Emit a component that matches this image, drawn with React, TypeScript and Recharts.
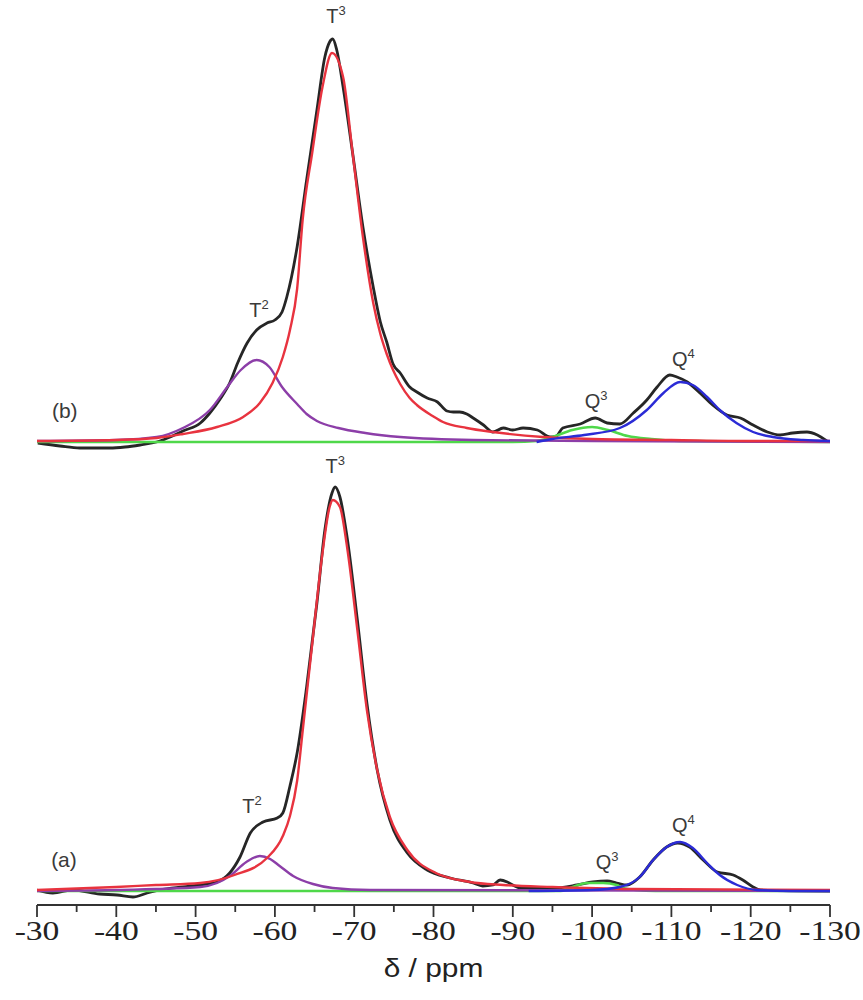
import { LineChart, Line, XAxis, YAxis, ReferenceDot } from "recharts";

// chemical shift axis (ppm)
const majorTicks = [-30, -40, -50, -60, -70, -80, -90, -100, -110, -120, -130];
const minorTicks = [-35, -45, -55, -65, -75, -85, -95, -105, -115, -125];

// (b) upper spectrum - experimental trace
const bExpPpm = [-30.1, -32.9, -35.4, -39.2, -41.1, -43.0, -44.5, -45.5, -46.8, -48.4, -50.6, -51.8, -53.1, -54.3, -55.3, -56.5, -57.7, -59.0, -60.0, -60.9, -61.5, -62.8, -64.0, -65.3, -66.3, -66.9, -67.3, -67.8, -68.6, -69.8, -71.1, -72.4, -73.3, -74.1, -74.9, -75.8, -77.0, -77.9, -79.2, -80.5, -81.7, -82.5, -83.3, -84.2, -85.0, -86.3, -87.5, -88.8, -90.0, -91.3, -93.1, -94.7, -95.5, -96.3, -98.5, -100.4, -101.9, -103.5, -105.2, -106.9, -108.2, -109.8, -110.7, -112.0, -113.6, -115.2, -117.0, -118.7, -120.3, -122.1, -123.7, -125.3, -127.1, -128.4, -129.6];
const bExpInt = [-1, -4, -6, -6, -5, -3, -1, 1, 5, 11, 19, 29, 43, 59, 79, 99, 112, 119, 122, 130, 145, 195, 262, 332, 385, 400, 403, 392, 355, 289, 215, 155, 120, 100, 78, 69, 55, 50, 44, 40, 31, 30, 30, 28, 24, 17, 10, 14, 12, 14, 12, 5, 6, 14, 18, 24, 19, 18, 29, 42, 55, 67, 65, 60, 49, 37, 27, 24, 17, 10, 7, 9, 10, 7, 1];

// (b) fitted components
const bT3Ppm = [-30, -40, -45.1, -48.4, -52.7, -56.0, -58.1, -59.7, -61.0, -61.9, -62.8, -63.5, -64.7, -66.0, -67.2, -68.6, -69.8, -71.1, -72.4, -73.3, -74.1, -74.9, -75.8, -77.0, -77.9, -79.9, -81.2, -84.2, -87.5, -93.8, -100, -110, -120, -130];
const bT3Int = [1, 2, 4, 8, 15, 25, 39, 59, 85, 112, 153, 222, 289, 355, 389, 365, 289, 205, 139, 108, 88, 72, 58, 44, 37, 26, 20, 14, 10, 5, 3, 2, 1, 1];

const bT2Ppm = [-30, -40, -45.1, -48.4, -51.8, -54.0, -55.7, -57.7, -59.3, -60.9, -62.8, -64.0, -65.3, -68.0, -71.4, -75.8, -85, -100, -130];
const bT2Int = [1, 2, 5, 14, 32, 55, 72, 82, 75, 55, 38, 28, 21, 14, 9, 5, 2, 1, 0];

const bQ3Ppm = [-30, -90, -93, -95, -97.5, -100, -102, -104.5, -107.5, -111, -130];
const bQ3Int = [0, 0, 1, 5, 12, 15, 12, 6, 3, 1, 0];

const bQ4Ppm = [-93, -95, -99, -103.5, -106.9, -109, -111.1, -112.7, -114.5, -116.1, -118.2, -120.3, -122.8, -126.6, -130];
const bQ4Int = [0, 3, 7, 14, 32, 49, 60, 57, 45, 32, 19, 10, 5, 2, 1];

// (a) lower spectrum - experimental trace
const aExpPpm = [-30.0, -32.0, -34.5, -37.9, -40.1, -42.1, -43.9, -45.5, -48.4, -50.6, -52.7, -54.3, -55.6, -56.9, -58.5, -60.3, -61.0, -61.9, -62.8, -64.0, -65.3, -66.3, -67.2, -67.6, -68.2, -69.1, -70.4, -71.6, -72.9, -74.5, -76.7, -79.2, -82.1, -85.0, -86.2, -87.5, -88.4, -89.3, -90.0, -90.9, -95.1, -98.1, -100.1, -101.9, -103.1, -104.4, -106.0, -107.7, -109.4, -110.8, -112.3, -114.0, -115.8, -117.8, -119.0, -120.3, -121.2, -130];
const aExpInt = [1, -2, 1, -3, -4, -6, -2, 1, 4, 6, 9, 18, 34, 58, 69, 73, 78, 105, 138, 204, 288, 361, 398, 404, 394, 354, 271, 188, 121, 71, 38, 21, 13, 8, 5, 6, 11, 9, 6, 3, 3, 6, 9, 10, 8, 6, 14, 31, 44, 48, 44, 31, 19, 16, 11, 4, 1, 0];

// (a) fitted components
const aT3Ppm = [-30, -40, -45, -50.6, -54.9, -59.0, -61.0, -61.9, -62.8, -63.5, -64.8, -66.0, -66.9, -67.3, -68.2, -69.1, -70.4, -71.6, -72.9, -74.5, -76.7, -80.3, -84.6, -88.8, -95, -105, -130];
const aT3Int = [1, 4, 6, 8, 16, 33, 55, 75, 110, 160, 254, 338, 384, 391, 384, 344, 261, 181, 121, 74, 41, 18, 9, 6, 4, 2, 1];

const aT2Ppm = [-30, -45, -50.6, -52.7, -54.3, -56.4, -58.1, -59.4, -60.6, -62.3, -64.8, -67.3, -72, -130];
const aT2Int = [0, 2, 4, 8, 15, 29, 35, 32, 25, 15, 7, 3, 1, 0];

const aQ3Ppm = [-30, -96, -97.2, -99.4, -101.4, -103.1, -103.9, -105.5, -108, -130];
const aQ3Int = [0, 0, 3, 8, 8, 6, 3, 1, 0, 0];

const aQ4Ppm = [-92, -100, -103.5, -106.0, -107.7, -109.4, -111.1, -112.7, -114.5, -116.1, -118.3, -120.8, -125, -130];
const aQ4Int = [0, 1, 4, 14, 31, 44, 49, 43, 28, 16, 6, 1, 0, 0];

// peak assignments (text, superscript, anchor ppm, anchor intensity)
const bLabelText = ["T", "T", "Q", "Q", "(b)"];
const bLabelSup = ["3", "2", "3", "4", ""];
const bLabelPpm = [-67.7, -58.0, -100.5, -111.5, -33.5];
const bLabelInt = [419, 125, 34, 76, 24];

const aLabelText = ["T", "T", "Q", "Q", "(a)"];
const aLabelSup = ["3", "2", "3", "4", ""];
const aLabelPpm = [-67.6, -57.1, -101.9, -111.5, -33.4];
const aLabelInt = [418, 78, 22, 59, 24];

const pts = (ppm: number[], val: number[]) => ppm.map((p, i) => ({ ppm: p, v: val[i] }));

const COL = {
  exp: "#262626",
  t3: "#e8333f",
  t2: "#8c3ea8",
  q3: "#4fd84a",
  q4: "#2b2bd6",
};

const SANS = "'Liberation Sans', Arial, sans-serif";
const SERIF = "'Liberation Serif', 'Times New Roman', serif";

function PpmTick(props: any) {
  const { x, y, payload } = props;
  const major = payload.value % 10 === 0;
  return (
    <g transform={`translate(${x},${y})`}>
      <line x1={0} x2={0} y1={0} y2={major ? 12 : 7} stroke="#333" strokeWidth={1.8} />
      {major && (
        <text y={35} textAnchor="middle" transform="scale(1.2,1)" fontFamily={SERIF} fontSize={28} fill="#222">
          {payload.value}
        </text>
      )}
    </g>
  );
}

function AxisTitle(props: any) {
  const { x, y, width } = props.viewBox;
  return (
    <g transform={`translate(${x + width / 2},${y + 72}) scale(1.15,1)`}>
      <text textAnchor="middle" fontFamily={SANS} fontSize={26} fill="#222">
        δ / ppm
      </text>
    </g>
  );
}

const peakLabel = (base: string, sup: string) => (props: any) => {
  const vb = props.viewBox;
  const cx = vb.x + (vb.width || 0) / 2;
  const cy = vb.y + (vb.height || 0) / 2;
  return (
    <text x={cx} y={cy} textAnchor="middle" fontFamily={SANS} fontSize={sup ? 20 : 21} fill="#3a3a3a">
      {base}
      {sup && (
        <tspan dy={-8} fontSize={13}>
          {sup}
        </tspan>
      )}
    </text>
  );
};

export default function App() {
  const lineProps = { type: "monotone" as const, dataKey: "v", dot: false, activeDot: false, isAnimationActive: false };
  return (
    <div style={{ position: "absolute", left: 0, top: 0, width: 863, height: 1000, background: "#fff" }}>
      <LineChart width={863} height={1000} margin={{ top: 20, right: 33, bottom: 0, left: 37 }}>
        <XAxis
          type="number"
          dataKey="ppm"
          domain={[-130, -30]}
          reversed
          allowDataOverflow
          ticks={[...majorTicks, ...minorTicks]}
          interval={0}
          tickLine={false}
          tickSize={0}
          tickMargin={0}
          tick={<PpmTick />}
          axisLine={{ stroke: "#333", strokeWidth: 2 }}
          height={95}
          label={{ content: AxisTitle }}
        />
        <YAxis yAxisId="a" type="number" domain={[-14, 871]} hide allowDataOverflow />
        <YAxis yAxisId="b" type="number" domain={[-463, 422]} hide allowDataOverflow />

        {/* (b) */}
        <Line {...lineProps} yAxisId="b" data={pts(bExpPpm, bExpInt)} stroke={COL.exp} strokeWidth={2.8} />
        <Line {...lineProps} yAxisId="b" data={pts(bQ3Ppm, bQ3Int)} stroke={COL.q3} strokeWidth={2.6} />
        <Line {...lineProps} yAxisId="b" data={pts(bT2Ppm, bT2Int)} stroke={COL.t2} strokeWidth={2.4} />
        <Line {...lineProps} yAxisId="b" data={pts(bT3Ppm, bT3Int)} stroke={COL.t3} strokeWidth={2.4} />
        <Line {...lineProps} yAxisId="b" data={pts(bQ4Ppm, bQ4Int)} stroke={COL.q4} strokeWidth={2.4} />

        {/* (a) */}
        <Line {...lineProps} yAxisId="a" data={pts(aExpPpm, aExpInt)} stroke={COL.exp} strokeWidth={2.8} />
        <Line {...lineProps} yAxisId="a" data={pts(aQ3Ppm, aQ3Int)} stroke={COL.q3} strokeWidth={2.6} />
        <Line {...lineProps} yAxisId="a" data={pts(aT2Ppm, aT2Int)} stroke={COL.t2} strokeWidth={2.4} />
        <Line {...lineProps} yAxisId="a" data={pts(aT3Ppm, aT3Int)} stroke={COL.t3} strokeWidth={2.4} />
        <Line {...lineProps} yAxisId="a" data={pts(aQ4Ppm, aQ4Int)} stroke={COL.q4} strokeWidth={2.4} />

        {bLabelText.map((t, i) => (
          <ReferenceDot
            key={`b${i}`}
            yAxisId="b"
            x={bLabelPpm[i]}
            y={bLabelInt[i]}
            r={1}
            fill="none"
            stroke="none"
            label={peakLabel(t, bLabelSup[i])}
          />
        ))}
        {aLabelText.map((t, i) => (
          <ReferenceDot
            key={`a${i}`}
            yAxisId="a"
            x={aLabelPpm[i]}
            y={aLabelInt[i]}
            r={1}
            fill="none"
            stroke="none"
            label={peakLabel(t, aLabelSup[i])}
          />
        ))}
      </LineChart>
    </div>
  );
}
